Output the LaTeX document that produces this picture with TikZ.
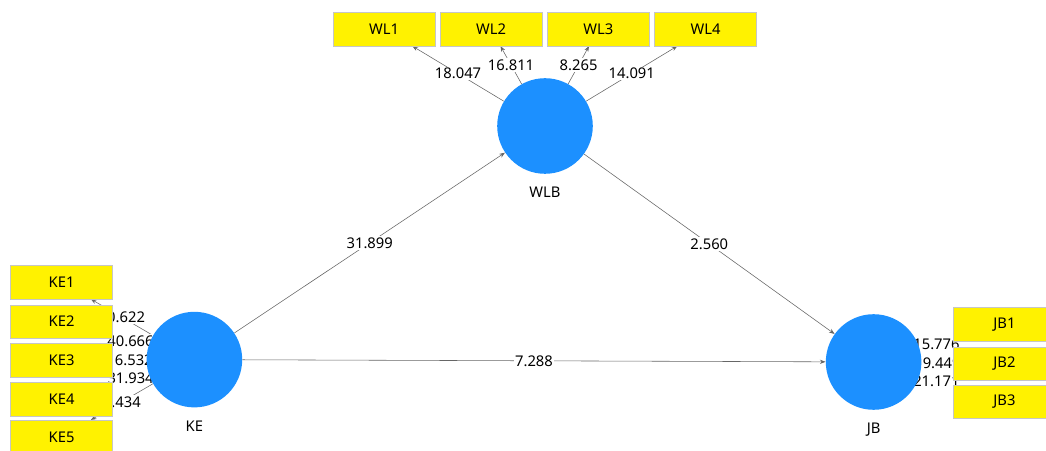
\documentclass[tikz,border=0pt]{standalone}
\usepackage{fontspec}
\setmainfont{Noto Sans}
\usepackage{xcolor}
\usetikzlibrary{arrows.meta}
\definecolor{lvblue}{RGB}{28,144,255}
\pgfdeclarelayer{background}
\pgfsetlayers{background,main}

\begin{document}
\begin{tikzpicture}[>={Stealth[length=4pt,width=3pt]},
  font=\fontsize{10.5}{12}\selectfont,
  lv/.style={circle,fill=lvblue,minimum size=2.39cm,inner sep=0pt},
  lvname/.style={yshift=-0.2cm},
  mv/.style={rectangle,draw=gray!45,fill=yellow,minimum width=2.55cm,minimum height=0.84cm,inner sep=0pt},
  lnk/.style={draw=black!60,line width=0.4pt,->},
  val/.style={fill=white,inner sep=1pt}]
%\draw[help lines] (0,0) grid (26,11);
\useasboundingbox (0,0) rectangle (26.15,11.25);
\path
(13.625,8.1) node(wlb) [lv,label={[lvname]below:WLB}] {}
(4.86,2.26) node(ke) [lv,label={[lvname]below:KE}] {}
(21.84,2.2) node(jb) [lv,label={[lvname]below:JB}] {}
(9.6,10.525) node(wl1) [mv] {WL1}
(12.275,10.525) node(wl2) [mv] {WL2}
(14.96,10.525) node(wl3) [mv] {WL3}
(17.64,10.525) node(wl4) [mv] {WL4}
(1.54,4.2) node(ke1) [mv] {KE1}
(1.54,3.21) node(ke2) [mv] {KE2}
(1.54,2.25) node(ke3) [mv] {KE3}
(1.54,1.275) node(ke4) [mv] {KE4}
(1.54,0.325) node(ke5) [mv] {KE5}
(25.11,3.14) node(jb1) [mv] {JB1}
(25.11,2.16) node(jb2) [mv] {JB2}
(25.11,1.21) node(jb3) [mv] {JB3};

\begin{pgfonlayer}{background}
\draw[lnk] (ke) -- node[val] {31.899} (wlb);
\draw[lnk] (wlb) -- node[val] {2.560} (jb);
\draw[lnk] (ke) -- node[val] {7.288} (jb);
% outer loadings
\draw[lnk] (wlb) -- node[val] {18.047} (wl1);
\draw[lnk] (wlb) -- node[val] {16.811} (wl2);
\draw[lnk] (wlb) -- node[val] {8.265} (wl3);
\draw[lnk] (wlb) -- node[val] {14.091} (wl4);
\draw[lnk] (ke) -- node[val] {40.622} (ke1);
\draw[lnk] (ke) -- node[val] {40.666} (ke2);
\draw[lnk] (ke) -- node[val] {16.532} (ke3);
\draw[lnk] (ke) -- node[val] {31.934} (ke4);
\draw[lnk] (ke) -- node[val] {4.434} (ke5);
\draw[lnk] (jb) -- node[val] {15.776} (jb1);
\draw[lnk] (jb) -- node[val] {19.449} (jb2);
\draw[lnk] (jb) -- node[val] {21.171} (jb3);
\end{pgfonlayer}
\end{tikzpicture}
\end{document}
